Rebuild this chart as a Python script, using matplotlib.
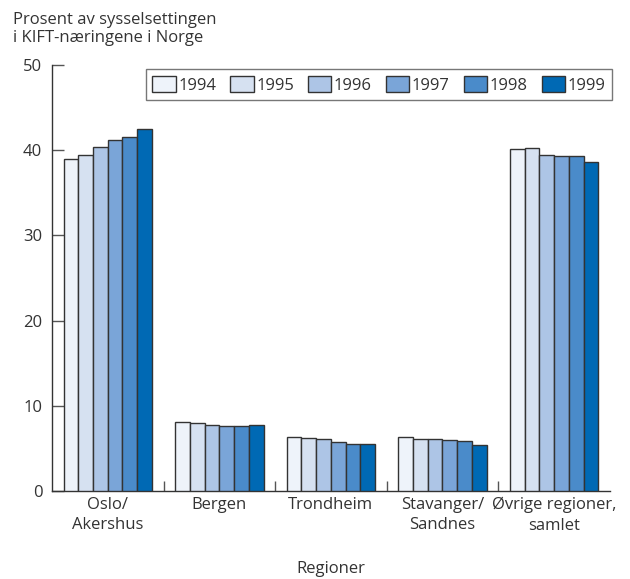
import matplotlib
matplotlib.use("Agg")
import matplotlib.pyplot as plt
import numpy as np

plt.rcParams['font.family'] = ['Open Sans', 'DejaVu Sans']
plt.rcParams['text.color'] = '#333333'
plt.rcParams['xtick.labelcolor'] = '#333333'
plt.rcParams['ytick.labelcolor'] = '#333333'

categories = ["Oslo/\nAkershus", "Bergen", "Trondheim", "Stavanger/\nSandnes", "Øvrige regioner,\nsamlet"]
years = ["1994", "1995", "1996", "1997", "1998", "1999"]
values = {
    "1994": [39.0, 8.1, 6.3, 6.3, 40.1],
    "1995": [39.4, 8.0, 6.2, 6.1, 40.2],
    "1996": [40.4, 7.8, 6.1, 6.1, 39.4],
    "1997": [41.2, 7.6, 5.8, 6.0, 39.3],
    "1998": [41.5, 7.6, 5.55, 5.9, 39.3],
    "1999": [42.5, 7.7, 5.55, 5.45, 38.6],
}
colors = ["#eef3fa", "#d6e1f1", "#adc5e6", "#7aa5d8", "#4a8bca", "#0069b4"]
yticks = [0, 10, 20, 30, 40, 50]

FS = 12

fig = plt.figure(figsize=(6.3, 5.79), dpi=100)
ax = fig.add_axes([0.0825, 0.152, 0.8855, 0.736])

x = np.arange(len(categories))
w = 0.132
for j, yr in enumerate(years):
    ax.bar(x + (j - 2.5) * w, values[yr], width=w, color=colors[j],
           edgecolor="#333333", linewidth=1.0, label=yr, zorder=3)

ax.set_xlim(-0.5, len(categories) - 0.5)
ax.set_ylim(0, 50)
ax.set_yticks(yticks)
ax.set_yticklabels([str(t) for t in yticks])
ax.tick_params(axis='y', direction='in', length=8.5, width=1, color='#555555',
               labelsize=FS, pad=7)
ax.set_xticks(np.arange(len(categories) - 1) + 0.5)
ax.set_xticklabels([])
ax.tick_params(axis='x', which='major', direction='in', length=7, width=1, color='#555555')
ax.set_xticks(x, minor=True)
ax.set_xticklabels(categories, minor=True, fontsize=FS, linespacing=1.4)
ax.tick_params(axis='x', which='minor', length=0, pad=4)

for s in ['top', 'right']:
    ax.spines[s].set_visible(False)
for s in ['left', 'bottom']:
    ax.spines[s].set_color('#333333')
    ax.spines[s].set_linewidth(1)

fig.text(0.02, 0.98, "Prosent av sysselsettingen\ni KIFT-næringene i Norge",
         ha='left', va='top', fontsize=FS, linespacing=1.2)
fig.text(0.525, 0.004, "Regioner", ha='center', va='bottom', fontsize=FS)

leg = ax.legend(loc='upper right', bbox_to_anchor=(0.972, 0.880),
                bbox_transform=fig.transFigure, ncol=6, frameon=True, fancybox=False,
                edgecolor='#555555', fontsize=FS, handlelength=1.4, handleheight=1.1,
                handletextpad=0.15, columnspacing=0.85, borderpad=0.4, borderaxespad=0)
leg.get_frame().set_linewidth(1)
for p in leg.get_patches():
    p.set_linewidth(1)

fig.savefig("out.png", dpi=100)
